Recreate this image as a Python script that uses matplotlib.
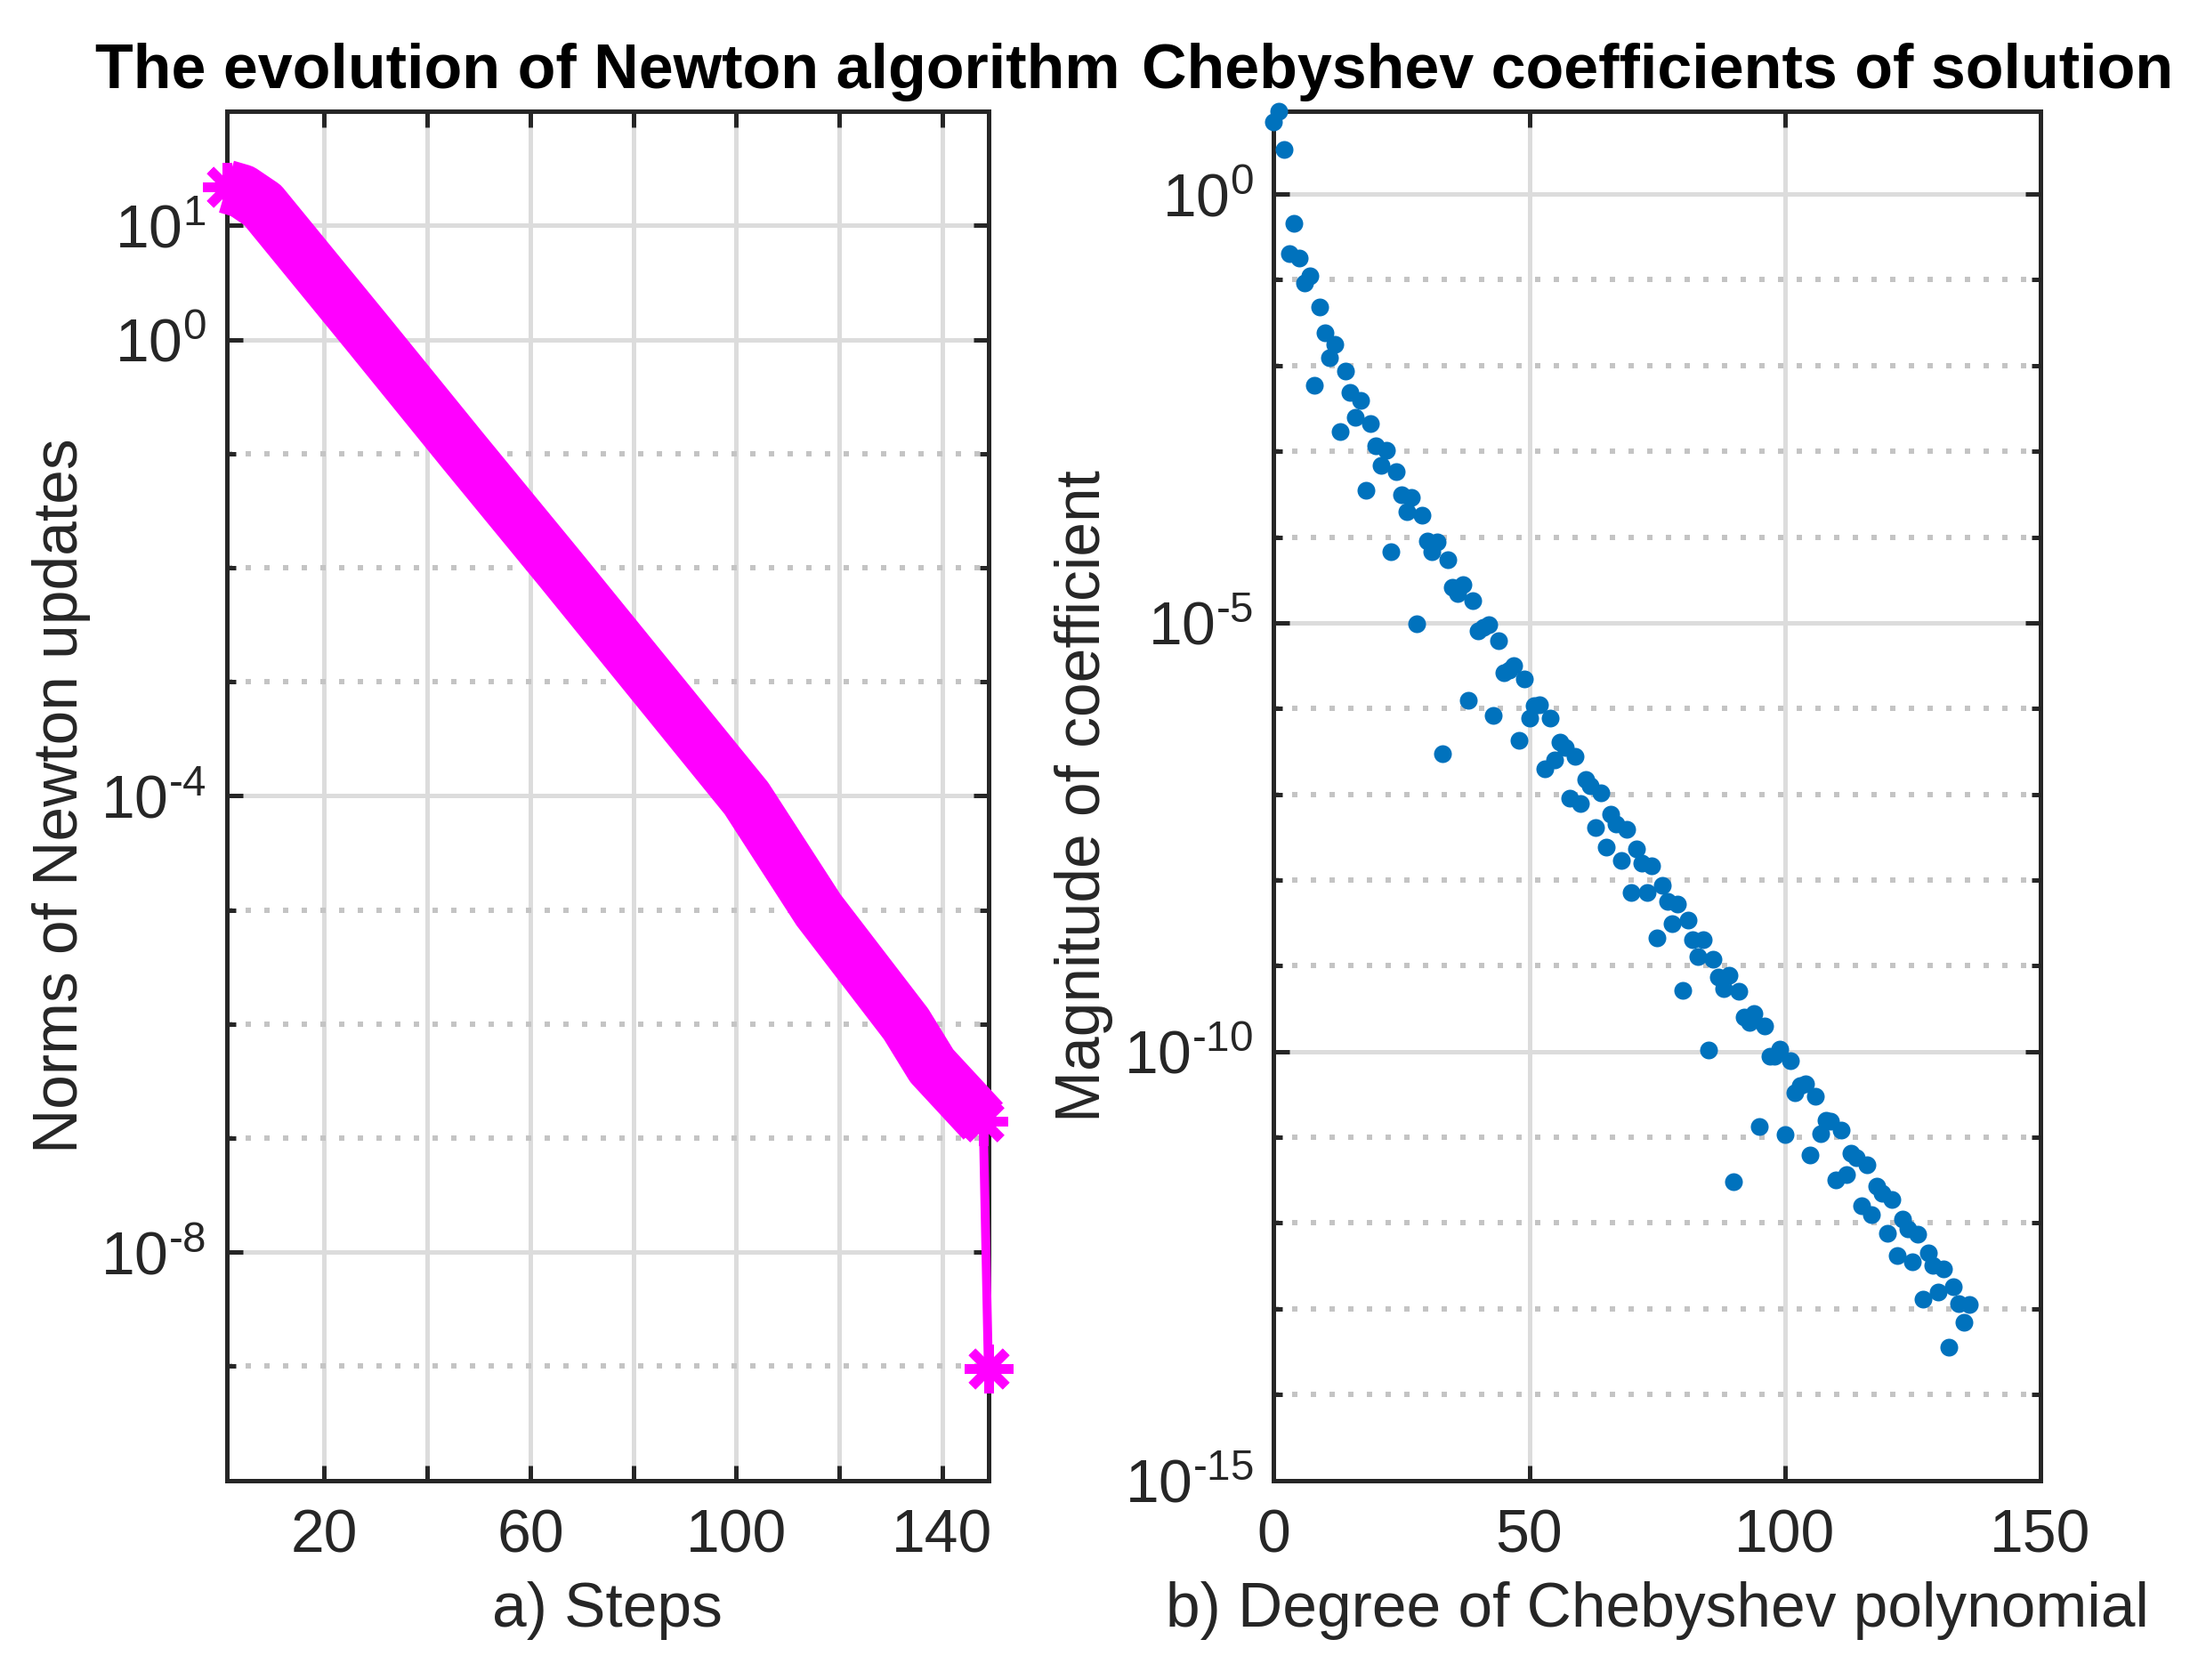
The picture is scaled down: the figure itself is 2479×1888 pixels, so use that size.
import io
import numpy as np
import matplotlib
matplotlib.use("Agg")
import matplotlib.pyplot as plt
from matplotlib.ticker import FixedLocator, FixedFormatter, NullFormatter

# ---------------- data: panel a) Newton iteration ----------------
newton_steps = [1, 4, 8, 29, 47, 66, 84, 102, 116, 133, 138, 148, 149]
newton_norms = [21.9, 20.0, 15.1, 1.05, 1.05e-1, 9.5e-3, 9.5e-4, 9.5e-5,
                1.0e-5, 1.0e-6, 4.3e-7, 1.4e-7, 9.5e-10]
steps_ticks = [20, 40, 60, 80, 100, 120, 140]
steps_ticklabels = ['20', '', '60', '', '100', '', '140']
norms_ticks = [1e-8, 1e-4, 1e0, 1e1]
norms_exponents = ['-8', '-4', '0', '1']
norms_minor = [1e-9, 1e-7, 1e-6, 1e-5, 1e-3, 1e-2, 1e-1]

# ---------------- data: panel b) Chebyshev coefficients ----------------
cheb_degree = list(range(137))
cheb_magnitude = [
    6.9, 9.2, 3.3, 2.0e-1, 4.5e-1, 1.8e-1, 9.1e-2, 1.1e-1, 5.9e-3, 4.8e-2,
    2.4e-2, 1.23e-2, 1.78e-2, 1.7e-3, 8.7e-3, 4.9e-3, 2.5e-3, 3.9e-3, 3.5e-4, 2.1e-3,
    1.17e-3, 6.8e-4, 1.02e-3, 6.8e-5, 5.8e-4, 3.1e-4, 2.0e-4, 2.9e-4, 9.8e-6, 1.78e-4,
    8.9e-5, 6.8e-5, 8.7e-5, 3.0e-7, 5.5e-5, 2.6e-5, 2.2e-5, 2.8e-5, 1.26e-6, 1.82e-5,
    8.1e-6, 8.9e-6, 9.5e-6, 8.3e-7, 6.2e-6, 2.6e-6, 2.8e-6, 3.2e-6, 4.3e-7, 2.2e-6,
    7.8e-7, 1.07e-6, 1.12e-6, 2.0e-7, 7.8e-7, 2.5e-7, 4.1e-7, 3.5e-7, 9.1e-8, 2.8e-7,
    7.8e-8, 1.5e-7, 1.26e-7, 4.1e-8, 1.05e-7, 2.4e-8, 5.8e-8, 4.5e-8, 1.7e-8, 3.9e-8,
    7.2e-9, 2.3e-8, 1.58e-8, 7.2e-9, 1.45e-8, 2.1e-9, 8.7e-9, 5.6e-9, 3.1e-9, 5.2e-9,
    5.2e-10, 3.4e-9, 2.0e-9, 1.29e-9, 2.0e-9, 1.05e-10, 1.2e-9, 7.4e-10, 5.4e-10, 7.8e-10,
    3.0e-12, 5.1e-10, 2.5e-10, 2.2e-10, 2.8e-10, 1.32e-11, 2.0e-10, 8.9e-11, 8.9e-11, 1.07e-10,
    1.07e-11, 7.8e-11, 3.3e-11, 4.0e-11, 4.2e-11, 6.2e-12, 3.0e-11, 1.1e-11, 1.58e-11, 1.55e-11,
    3.2e-12, 1.2e-11, 3.7e-12, 6.5e-12, 5.8e-12, 1.58e-12, 4.8e-12, 1.26e-12, 2.7e-12, 2.2e-12,
    7.6e-13, 1.86e-12, 4.2e-13, 1.1e-12, 8.5e-13, 3.5e-13, 7.4e-13, 1.29e-13, 4.5e-13, 3.2e-13,
    1.55e-13, 2.9e-13, 3.6e-14, 1.8e-13, 1.15e-13, 6.9e-14, 1.12e-13,
]
degree_ticks = [0, 50, 100, 150]
degree_ticklabels = ['0', '50', '100', '150']
coef_ticks = [1e-15, 1e-10, 1e-5, 1e0]
coef_exponents = ['-15', '-10', '-5', '0']
coef_minor = [1e-14, 1e-13, 1e-12, 1e-11, 1e-9, 1e-8, 1e-7, 1e-6,
              1e-4, 1e-3, 1e-2, 1e-1]

titles = ['The evolution of Newton algorithm', 'Chebyshev coefficients of solution']
xlabels = ['a) Steps', 'b) Degree of Chebyshev polynomial']
ylabels = ['Norms of Newton updates', 'Magnitude of coefficient']

# ---------------- style ----------------
FONT = 'Liberation Sans'
plt.rcParams['font.family'] = [FONT, 'DejaVu Sans']
plt.rcParams['mathtext.fontset'] = 'custom'
plt.rcParams['mathtext.rm'] = FONT
plt.rcParams['mathtext.it'] = FONT + ':italic'
plt.rcParams['mathtext.bf'] = FONT + ':bold'


def _text_cmd_ok():
    try:
        from matplotlib import mathtext
        buf = io.BytesIO()
        mathtext.math_to_image(r'$\mathregular{10^{\text{-}4}}$', buf, dpi=72, format='png')
        return True
    except Exception:
        return False


USE_TEXT = _text_cmd_ok()


def pow10_label(e):
    if e.startswith('-') and USE_TEXT:
        return r'$\mathregular{10^{\text{-}%s}}$' % e[1:]
    return r'$\mathregular{10^{%s}}$' % e


TXT = '#262626'
MAG = '#FF00FF'
BLUE = '#0072BD'
GRID_MAJ = '#dcdcdc'
GRID_MIN = '#c4c4c4'
TICK_FS = 16.3
LABEL_FS = 16.7
TITLE_FS = 16.8

W, H = 2479, 1888
DPI = 300
fig = plt.figure(figsize=(W / DPI, H / DPI), dpi=DPI)
fig.patch.set_facecolor('white')

ax1 = fig.add_axes([254.5 / W, 1 - 1663.5 / H, (1110.7 - 254.5) / W, (1663.5 - 125.2) / H])
ax2 = fig.add_axes([1431.3 / W, 1 - 1663.5 / H, (2293.0 - 1431.3) / W, (1663.5 - 125.2) / H])


def style_axes(ax):
    ax.set_axisbelow(True)
    for sp in ax.spines.values():
        sp.set_color(TXT)
        sp.set_linewidth(1.2)
        sp.set_zorder(2.5)
    ax.tick_params(which='both', direction='in', top=True, right=True,
                   color=TXT, width=1.2, labelcolor=TXT, labelsize=TICK_FS)
    ax.tick_params(which='major', length=4.2)
    ax.tick_params(which='minor', length=2.4)
    ax.tick_params(axis='x', which='both', pad=7.4)
    ax.tick_params(axis='y', which='both', pad=5.5)
    ax.grid(which='major', color=GRID_MAJ, linewidth=1.2, linestyle='-')
    ax.grid(which='minor', axis='y', color=GRID_MIN, linewidth=1.44,
            linestyle=(0, (1, 2.5)))
    ax.grid(which='minor', axis='x', visible=False)


# ---------------- panel a ----------------
ax1.set_yscale('log')
ax1.set_xlim(1, 149)
ax1.set_ylim(1e-10, 1e2)
ax1.plot(newton_steps[:-1], newton_norms[:-1], color=MAG, lw=14.5,
         solid_capstyle='butt', solid_joinstyle='round', zorder=3, clip_on=False)
ax1.plot(newton_steps[:-1], newton_norms[:-1], ls='none', marker=(8, 2, 0),
         ms=13, mew=2.6, color=MAG, zorder=3, clip_on=False)
ax1.plot(newton_steps[-2:], newton_norms[-2:], color=MAG, lw=2.4,
         marker=(8, 2, 0), ms=13, mew=2.6, zorder=3, clip_on=False)
ax1.xaxis.set_major_locator(FixedLocator(steps_ticks))
ax1.xaxis.set_major_formatter(FixedFormatter(steps_ticklabels))
ax1.xaxis.set_minor_locator(FixedLocator([]))
ax1.yaxis.set_major_locator(FixedLocator(norms_ticks))
ax1.yaxis.set_major_formatter(FixedFormatter([pow10_label(e) for e in norms_exponents]))
ax1.yaxis.set_minor_locator(FixedLocator(norms_minor))
ax1.yaxis.set_minor_formatter(NullFormatter())
style_axes(ax1)

# ---------------- panel b ----------------
ax2.set_yscale('log')
ax2.set_xlim(0, 150)
ax2.set_ylim(1e-15, 9.2)
ax2.plot(cheb_degree, cheb_magnitude, ls='none', marker='o', ms=4.8, mew=0,
         color=BLUE, zorder=3, clip_on=False)
ax2.xaxis.set_major_locator(FixedLocator(degree_ticks))
ax2.xaxis.set_major_formatter(FixedFormatter(degree_ticklabels))
ax2.xaxis.set_minor_locator(FixedLocator([]))
ax2.yaxis.set_major_locator(FixedLocator(coef_ticks))
ax2.yaxis.set_major_formatter(FixedFormatter([pow10_label(e) for e in coef_exponents]))
ax2.yaxis.set_minor_locator(FixedLocator(coef_minor))
ax2.yaxis.set_minor_formatter(NullFormatter())
style_axes(ax2)

# ---------------- texts ----------------
for ax, t, xl, yl, ylx in [(ax1, titles[0], xlabels[0], ylabels[0], -0.178),
                           (ax2, titles[1], xlabels[1], ylabels[1], -0.209)]:
    ax.set_title(t, fontsize=TITLE_FS, fontweight='bold', color='black', pad=6.2)
    ax.set_xlabel(xl, fontsize=LABEL_FS, color=TXT)
    ax.set_ylabel(yl, fontsize=LABEL_FS, color=TXT)
    ax.xaxis.set_label_coords(0.5, -0.074)
    ax.yaxis.set_label_coords(ylx, 0.5)

fig.savefig('out.png', dpi=DPI, facecolor='white')
